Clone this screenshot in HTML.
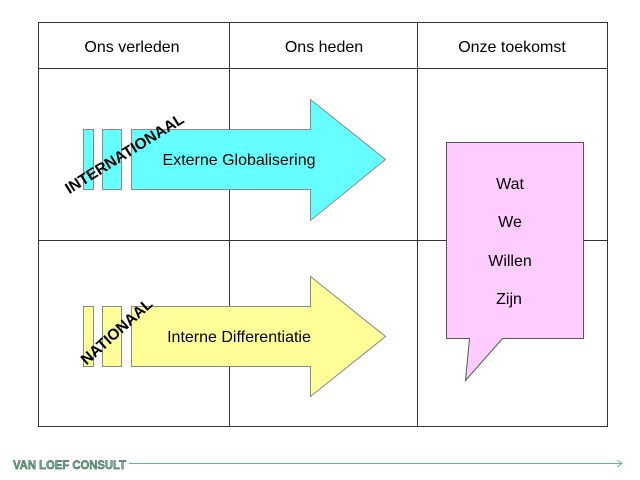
<!DOCTYPE html>
<html><head><meta charset="utf-8"><style>
body{margin:0;background:#fff;width:640px;height:480px;overflow:hidden}
svg{display:block}
text{font-family:"Liberation Sans",sans-serif}
</style></head><body>
<svg width="640" height="480" viewBox="0 0 640 480">
<g stroke="#333" stroke-width="1" fill="none">
<rect x="38.5" y="22.5" width="569" height="404"/>
<line x1="229.5" y1="22" x2="229.5" y2="427"/>
<line x1="417.5" y1="22" x2="417.5" y2="427"/>
<line x1="38" y1="68.5" x2="608" y2="68.5"/>
<line x1="38" y1="240.5" x2="608" y2="240.5"/>
</g>
<g font-size="16" fill="#000" text-anchor="middle">
<text x="132" y="52">Ons verleden</text>
<text x="324" y="52">Ons heden</text>
<text x="512" y="52">Onze toekomst</text>
</g>
<g stroke="#888" fill="#66ffff">
<rect x="83.5" y="129.5" width="10" height="60"/>
<rect x="102.5" y="129.5" width="19" height="60"/>
<polygon points="131.5,129.5 310.5,129.5 310.5,99.5 385.5,159.5 310.5,220.5 310.5,189.5 131.5,189.5"/>
</g>
<g stroke="#888" fill="#ffff99">
<rect x="83.5" y="306.5" width="10" height="60"/>
<rect x="102.5" y="306.5" width="19" height="60"/>
<polygon points="131.5,306.5 310.5,306.5 310.5,276.5 385.5,336.5 310.5,396.5 310.5,366.5 131.5,366.5"/>
</g>
<text x="239" y="165" font-size="16" text-anchor="middle">Externe Globalisering</text>
<text x="239" y="342" font-size="16" text-anchor="middle">Interne Differentiatie</text>
<text x="124" y="159" font-size="15.5" font-weight="bold" text-anchor="middle" transform="rotate(-32 124 153)">INTERNATIONAAL</text>
<text x="116" y="337" font-size="15.5" font-weight="bold" text-anchor="middle" transform="rotate(-42 116 331)">NATIONAAL</text>
<polygon points="446.5,142.5 583.5,142.5 583.5,338.5 502.5,338.5 465.5,380.5 469.5,338.5 446.5,338.5" fill="#ffccff" stroke="#555"/>
<g font-size="16" text-anchor="middle">
<text x="510" y="189">Wat</text>
<text x="510" y="227">We</text>
<text x="510" y="266">Willen</text>
<text x="509" y="304">Zijn</text>
</g>
<text x="13" y="469" font-size="12" font-weight="bold" fill="#5fb98c" stroke="#333" stroke-width="0.4" textLength="113" lengthAdjust="spacingAndGlyphs">VAN LOEF CONSULT</text>
<line x1="129" y1="463.5" x2="622" y2="463.5" stroke="#5fb98c"/>
<polyline points="617,460 622,463.5 617,467" fill="none" stroke="#5fb98c"/>
</svg>
</body></html>
